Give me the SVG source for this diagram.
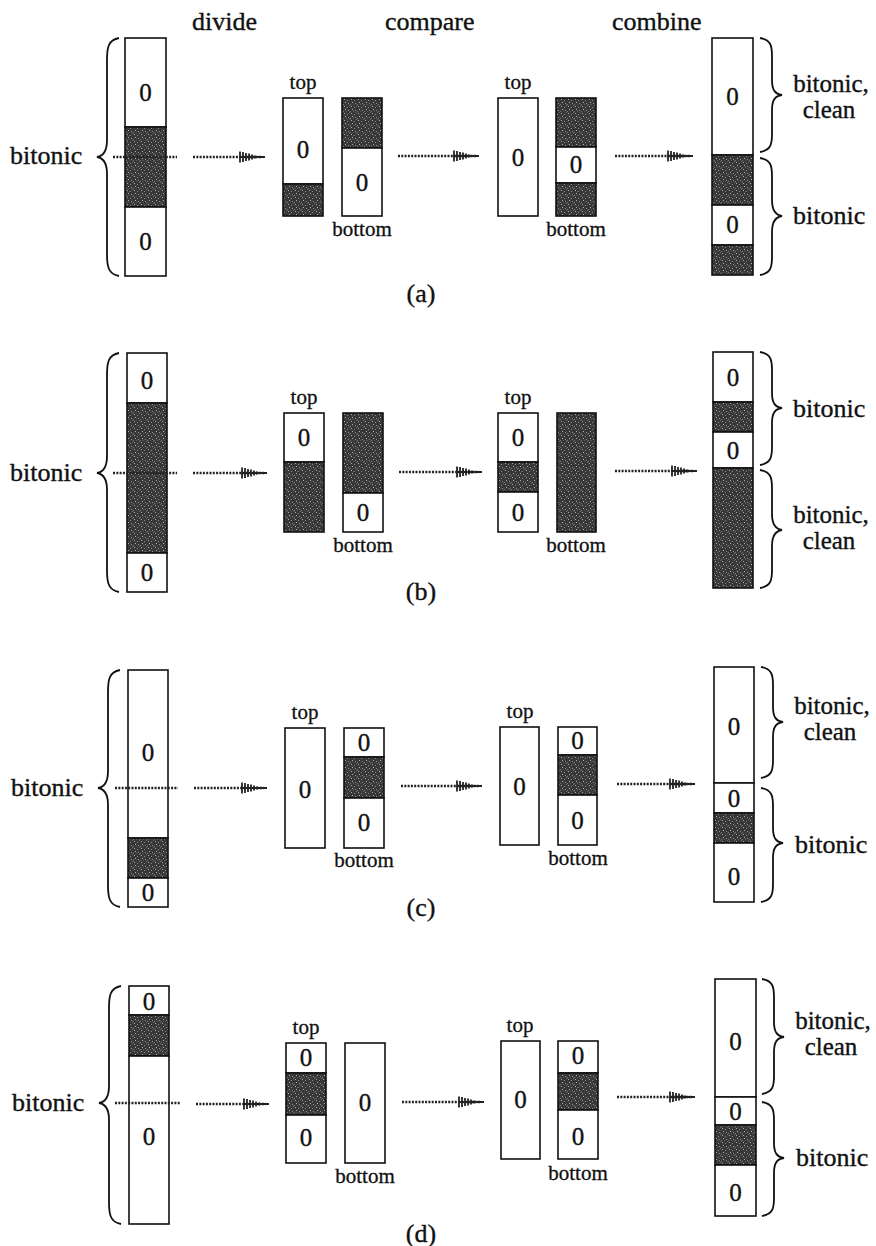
<svg xmlns="http://www.w3.org/2000/svg" width="876" height="1246" viewBox="0 0 876 1246" font-family="Liberation Serif">
<style>
.w{fill:#fff;stroke:#111;stroke-width:1.6}
.d{fill:url(#noise);stroke:#111;stroke-width:1.6}
.br{fill:none;stroke:#111;stroke-width:1.8}
.lb{font-family:'Liberation Serif',serif;font-size:26px;fill:#111;stroke:#111;stroke-width:0.35}
.lb2{font-family:'Liberation Serif',serif;font-size:25px;fill:#111;stroke:#111;stroke-width:0.35;text-anchor:middle}
.sm{font-family:'Liberation Serif',serif;font-size:21px;fill:#111;stroke:#111;stroke-width:0.3;text-anchor:middle}
.z{font-family:'Liberation Serif',serif;font-size:25px;fill:#111;stroke:#111;stroke-width:0.35;text-anchor:middle}
.c{text-anchor:middle}
.dot{fill:none;stroke:#222;stroke-width:2.4;stroke-dasharray:2 1.3}
.arr{fill:none;stroke:#222;stroke-width:2.4;stroke-dasharray:2 1.3;marker-end:url(#head)}
</style>
<defs>
<pattern id="noise" width="7" height="7" patternUnits="userSpaceOnUse">
<rect width="7" height="7" fill="#383838"/>
<rect x="1" y="1" width="1" height="1" fill="#a8a8a8"/>
<rect x="4" y="2" width="1" height="1" fill="#8c8c8c"/>
<rect x="2" y="4" width="1" height="1" fill="#b0b0b0"/>
<rect x="5" y="5" width="1" height="1" fill="#909090"/>
<rect x="0" y="6" width="1" height="1" fill="#7a7a7a"/>
<rect x="6" y="0" width="1" height="1" fill="#6a6a6a"/>
<rect x="3" y="6" width="1" height="1" fill="#5a5a5a"/>
</pattern>
<marker id="head" markerUnits="userSpaceOnUse" markerWidth="28" markerHeight="16" refX="24" refY="8" orient="auto">
<path d="M2,2.5 L2,13.5 M5,3 L5,13 M8,4 L8,12 M11,4.5 L11,11.5 M14,5.5 L14,10.5 M17,6.5 L17,9.5 M2,8 L27,8" fill="none" stroke="#222" stroke-width="1.8"/>
</marker>
</defs>
<rect width="876" height="1246" fill="#fff"/>

<g id="headings">
<text class="lb" x="192" y="30">divide</text>
<text class="lb" x="385" y="30">compare</text>
<text class="lb" x="612" y="30">combine</text>
</g>

<!-- ===== Panel (a) ===== -->
<g id="a-input">
<rect class="w" x="125" y="38" width="41" height="89"/>
<rect class="d" x="125" y="127" width="41" height="80"/>
<rect class="w" x="125" y="207" width="41" height="69"/>
<text class="z" x="145.5" y="101">0</text>
<text class="z" x="145.5" y="250">0</text>
<path class="br" d="M119,38 C108,40 107,48 107,60 L107,140 C107,151 104,156 97,157 C104,158 107,163 107,174 L107,254 C107,266 108,274 119,276"/>
<text class="lb" x="10" y="164">bitonic</text>
</g>
<g id="a-top">
<text class="sm" x="303" y="89">top</text>
<rect class="w" x="283" y="98" width="40" height="86"/>
<rect class="d" x="283" y="184" width="40" height="32"/>
<text class="z" x="303" y="158">0</text>
</g>
<g id="a-bottom">
<rect class="d" x="342" y="98" width="40" height="50"/>
<rect class="w" x="342" y="148" width="40" height="68"/>
<text class="z" x="362" y="191">0</text>
<text class="sm" x="362" y="236">bottom</text>
</g>
<g id="a-ctop">
<text class="sm" x="518" y="89">top</text>
<rect class="w" x="498" y="98" width="40" height="118"/>
<text class="z" x="518" y="166">0</text>
</g>
<g id="a-cbottom">
<rect class="d" x="556" y="98" width="40" height="49"/>
<rect class="w" x="556" y="147" width="40" height="36"/>
<rect class="d" x="556" y="183" width="40" height="33"/>
<text class="z" x="576" y="173">0</text>
<text class="sm" x="576" y="236">bottom</text>
</g>
<g id="a-output">
<rect class="w" x="712" y="38" width="41" height="117"/>
<rect class="d" x="712" y="155" width="41" height="50"/>
<rect class="w" x="712" y="205" width="41" height="40"/>
<rect class="d" x="712" y="245" width="41" height="30"/>
<text class="z" x="732.5" y="105">0</text>
<text class="z" x="732.5" y="233">0</text>
<path class="br" d="M760,38 C771,40 772,46 772,56 L772,80 C772,90 775,94 782,95 C775,96 772,100 772,110 L772,134 C772,144 771,150 760,152"/>
<path class="br" d="M760,158 C771,160 772,166 772,176 L772,200 C772,210 775,215 782,216 C775,217 772,222 772,232 L772,257 C772,267 771,273 760,275"/>
<text class="lb2" x="831" y="92">bitonic,</text>
<text class="lb2" x="829" y="118">clean</text>
<text class="lb" x="793" y="224">bitonic</text>
</g>
<text id="a-label" class="lb c" x="421" y="302">(a)</text>

<!-- ===== Panel (b) ===== -->
<g id="b-input">
<rect class="w" x="127" y="353" width="40" height="50"/>
<rect class="d" x="127" y="403" width="40" height="150"/>
<rect class="w" x="127" y="553" width="40" height="39"/>
<text class="z" x="147" y="389">0</text>
<text class="z" x="147" y="581">0</text>
<path class="br" d="M119,353 C108,355 107,363 107,375 L107,456 C107,467 104,472 97,473 C104,474 107,479 107,490 L107,570 C107,582 108,590 119,592"/>
<text class="lb" x="10" y="481">bitonic</text>
</g>
<g id="b-top">
<text class="sm" x="304" y="404">top</text>
<rect class="w" x="284" y="413" width="40" height="49"/>
<rect class="d" x="284" y="462" width="40" height="70"/>
<text class="z" x="304" y="446">0</text>
</g>
<g id="b-bottom">
<rect class="d" x="343" y="413" width="40" height="80"/>
<rect class="w" x="343" y="493" width="40" height="39"/>
<text class="z" x="363" y="521">0</text>
<text class="sm" x="363" y="552">bottom</text>
</g>
<g id="b-ctop">
<text class="sm" x="518" y="404">top</text>
<rect class="w" x="498" y="413" width="40" height="49"/>
<rect class="d" x="498" y="462" width="40" height="30"/>
<rect class="w" x="498" y="492" width="40" height="40"/>
<text class="z" x="518" y="446">0</text>
<text class="z" x="518" y="521">0</text>
</g>
<g id="b-cbottom">
<rect class="d" x="557" y="413" width="39" height="119"/>
<text class="sm" x="576" y="552">bottom</text>
</g>
<g id="b-output">
<rect class="w" x="713" y="352" width="40" height="50"/>
<rect class="d" x="713" y="402" width="40" height="30"/>
<rect class="w" x="713" y="432" width="40" height="36"/>
<rect class="d" x="713" y="468" width="40" height="120"/>
<text class="z" x="733" y="386">0</text>
<text class="z" x="733" y="459">0</text>
<path class="br" d="M760,352 C771,354 772,360 772,370 L772,393 C772,403 775,407 782,408 C775,409 772,413 772,423 L772,447 C772,457 771,463 760,465"/>
<path class="br" d="M760,470 C771,472 772,478 772,488 L772,514 C772,524 775,529 782,530 C775,531 772,536 772,546 L772,570 C772,580 771,586 760,588"/>
<text class="lb" x="793" y="417">bitonic</text>
<text class="lb2" x="831" y="523">bitonic,</text>
<text class="lb2" x="829" y="549">clean</text>
</g>
<text id="b-label" class="lb c" x="421" y="600">(b)</text>

<!-- ===== Panel (c) ===== -->
<g id="c-input">
<rect class="w" x="128" y="670" width="40" height="168"/>
<rect class="d" x="128" y="838" width="40" height="40"/>
<rect class="w" x="128" y="878" width="40" height="29"/>
<text class="z" x="148" y="761">0</text>
<text class="z" x="148" y="901">0</text>
<path class="br" d="M120,670 C109,672 108,680 108,692 L108,771 C108,782 105,787 98,788 C105,789 108,794 108,805 L108,885 C108,897 109,905 120,907"/>
<text class="lb" x="11" y="796">bitonic</text>
</g>
<g id="c-top">
<text class="sm" x="305" y="719">top</text>
<rect class="w" x="285" y="728" width="40" height="120"/>
<text class="z" x="305" y="798">0</text>
</g>
<g id="c-bottom">
<rect class="w" x="344" y="728" width="40" height="29"/>
<rect class="d" x="344" y="757" width="40" height="41"/>
<rect class="w" x="344" y="798" width="40" height="50"/>
<text class="z" x="364" y="751">0</text>
<text class="z" x="364" y="831">0</text>
<text class="sm" x="364" y="867">bottom</text>
</g>
<g id="c-ctop">
<text class="sm" x="520" y="718">top</text>
<rect class="w" x="500" y="727" width="39" height="118"/>
<text class="z" x="519.5" y="795">0</text>
</g>
<g id="c-cbottom">
<rect class="w" x="558" y="727" width="39" height="28"/>
<rect class="d" x="558" y="755" width="39" height="40"/>
<rect class="w" x="558" y="795" width="39" height="50"/>
<text class="z" x="577.5" y="749">0</text>
<text class="z" x="577.5" y="829">0</text>
<text class="sm" x="578" y="865">bottom</text>
</g>
<g id="c-output">
<rect class="w" x="714" y="667" width="40" height="116"/>
<rect class="w" x="714" y="783" width="40" height="30"/>
<rect class="d" x="714" y="813" width="40" height="30"/>
<rect class="w" x="714" y="843" width="40" height="59"/>
<text class="z" x="734" y="735">0</text>
<text class="z" x="734" y="807">0</text>
<text class="z" x="734" y="885">0</text>
<path class="br" d="M761,667 C772,669 773,675 773,685 L773,707 C773,717 776,721 783,722 C776,723 773,727 773,737 L773,760 C773,770 772,776 761,778"/>
<path class="br" d="M761,788 C772,790 773,796 773,806 L773,828 C773,838 776,842 783,843 C776,844 773,848 773,858 L773,884 C773,894 772,900 761,902"/>
<text class="lb2" x="832" y="714">bitonic,</text>
<text class="lb2" x="830" y="740">clean</text>
<text class="lb" x="795" y="853">bitonic</text>
</g>
<text id="c-label" class="lb c" x="421" y="916">(c)</text>

<!-- ===== Panel (d) ===== -->
<g id="d-input">
<rect class="w" x="129" y="986" width="40" height="29"/>
<rect class="d" x="129" y="1015" width="40" height="41"/>
<rect class="w" x="129" y="1056" width="40" height="168"/>
<text class="z" x="149" y="1010">0</text>
<text class="z" x="149" y="1145">0</text>
<path class="br" d="M121,986 C110,988 109,996 109,1008 L109,1086 C109,1097 106,1102 99,1103 C106,1104 109,1109 109,1120 L109,1202 C109,1214 110,1222 121,1224"/>
<text class="lb" x="12" y="1111">bitonic</text>
</g>
<g id="d-top">
<text class="sm" x="306" y="1034">top</text>
<rect class="w" x="286" y="1043" width="40" height="30"/>
<rect class="d" x="286" y="1073" width="40" height="42"/>
<rect class="w" x="286" y="1115" width="40" height="48"/>
<text class="z" x="306" y="1066">0</text>
<text class="z" x="306" y="1146">0</text>
</g>
<g id="d-bottom">
<rect class="w" x="345" y="1043" width="40" height="120"/>
<text class="z" x="365" y="1111">0</text>
<text class="sm" x="365" y="1183">bottom</text>
</g>
<g id="d-ctop">
<text class="sm" x="520" y="1032">top</text>
<rect class="w" x="501" y="1041" width="39" height="118"/>
<text class="z" x="520.5" y="1108">0</text>
</g>
<g id="d-cbottom">
<rect class="w" x="558" y="1041" width="40" height="32"/>
<rect class="d" x="558" y="1073" width="40" height="37"/>
<rect class="w" x="558" y="1110" width="40" height="49"/>
<text class="z" x="578" y="1064">0</text>
<text class="z" x="578" y="1145">0</text>
<text class="sm" x="578" y="1180">bottom</text>
</g>
<g id="d-output">
<rect class="w" x="715" y="979" width="41" height="118"/>
<rect class="w" x="715" y="1097" width="41" height="28"/>
<rect class="d" x="715" y="1125" width="41" height="40"/>
<rect class="w" x="715" y="1165" width="41" height="51"/>
<text class="z" x="735.5" y="1050">0</text>
<text class="z" x="735.5" y="1120">0</text>
<text class="z" x="735.5" y="1201">0</text>
<path class="br" d="M762,979 C773,981 774,987 774,997 L774,1022 C774,1032 777,1036 784,1037 C777,1038 774,1042 774,1052 L774,1076 C774,1086 773,1092 762,1094"/>
<path class="br" d="M762,1102 C773,1104 774,1110 774,1120 L774,1143 C774,1153 777,1157 784,1158 C777,1159 774,1163 774,1173 L774,1198 C774,1208 773,1214 762,1216"/>
<text class="lb2" x="833" y="1029">bitonic,</text>
<text class="lb2" x="831" y="1055">clean</text>
<text class="lb" x="796" y="1166">bitonic</text>
</g>
<text id="d-label" class="lb c" x="421" y="1242">(d)</text>

<g id="connectors">
<line class="dot" x1="113" y1="157" x2="177" y2="157"/>
<line class="arr" x1="193" y1="157" x2="262" y2="157"/>
<line class="arr" x1="398" y1="156" x2="476" y2="156"/>
<line class="arr" x1="615" y1="156" x2="690" y2="156"/>

<line class="dot" x1="113" y1="473" x2="177" y2="473"/>
<line class="arr" x1="193" y1="473" x2="264" y2="473"/>
<line class="arr" x1="399" y1="472" x2="479" y2="472"/>
<line class="arr" x1="615" y1="471" x2="694" y2="471"/>

<line class="dot" x1="115" y1="788" x2="178" y2="788"/>
<line class="arr" x1="194" y1="788" x2="264" y2="788"/>
<line class="arr" x1="401" y1="786" x2="479" y2="786"/>
<line class="arr" x1="617" y1="784" x2="692" y2="784"/>

<line class="dot" x1="115" y1="1103" x2="180" y2="1103"/>
<line class="arr" x1="196" y1="1104" x2="266" y2="1104"/>
<line class="arr" x1="402" y1="1102" x2="481" y2="1102"/>
<line class="arr" x1="617" y1="1097" x2="692" y2="1097"/>
</g>
</svg>
